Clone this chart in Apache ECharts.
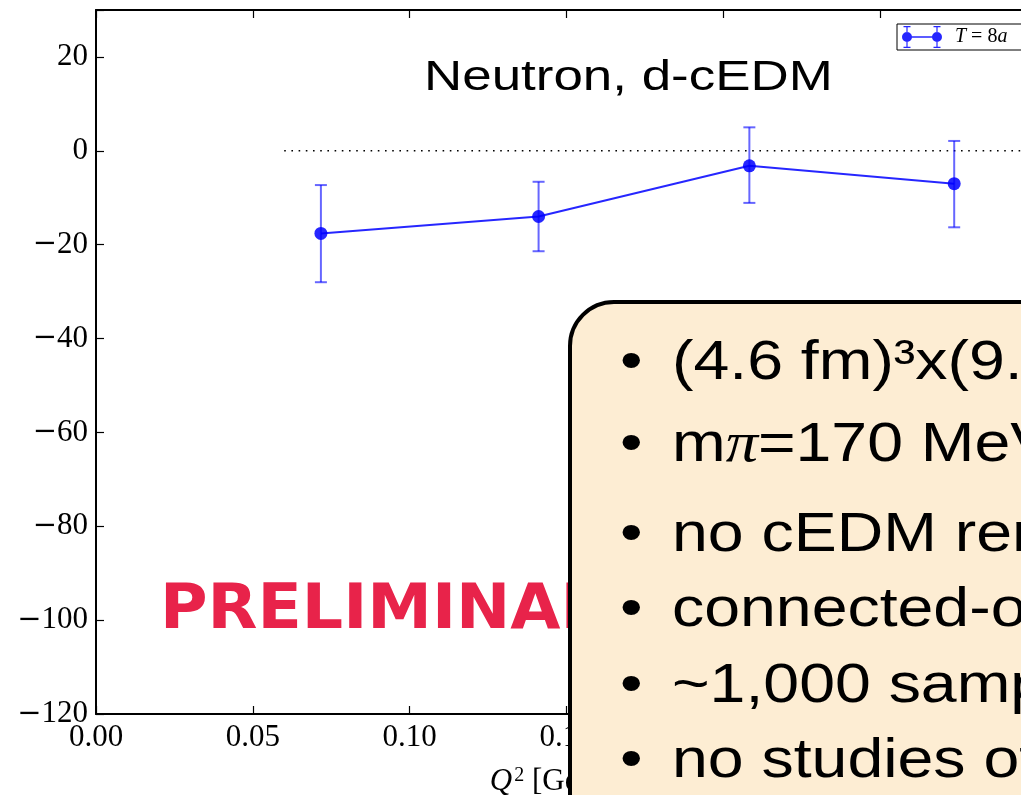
<!DOCTYPE html>
<html>
<head>
<meta charset="utf-8">
<script src="https://cdn.jsdelivr.net/npm/echarts@6/dist/echarts.min.js"></script>
<style>
  html, body { margin: 0; padding: 0; background: #fff; }
  #chart { width: 1021px; height: 795px; }
</style>
</head>
<body>
<div id="chart"></div>
<script>
// Neutron d-cEDM form factor vs Q^2, source-sink separation T = 8a
const q2Values = [0.0717, 0.1411, 0.2083, 0.2736];
const formFactor = [-17.6, -14.0, -3.2, -7.0];
const errUp = [10.3, 7.4, 8.2, 9.1];
const errDown = [10.4, 7.4, 7.9, 9.3];
const zeroLineX = [0.06, 0.30];
const xTicks = { min: 0, max: 0.30, interval: 0.05 };
const yTicks = { min: -120, max: 30, interval: 20 };
const seriesName = 'T = 8a';
const titleText = 'Neutron, d-cEDM';
const watermark = 'PRELIMINARY';
const notes = [
  ['(4.6 fm)³x(9.'],
  ['m', 'π', '=170 MeV'],
  ['no cEDM ren'],
  ['connected-on'],
  ['~1,000 samp'],
  ['no studies of']
];

const BLUE = 'rgba(0,0,255,0.85)';
const BLUE_ERR = 'rgba(0,0,255,0.6)';
const SERIF = '"Liberation Serif", "DejaVu Serif", serif';
const SANS = '"Liberation Sans", Arial, sans-serif';
const STRETCH = 1.15;

const points = q2Values.map((x, i) => [x, formFactor[i]]);
const errData = q2Values.map((x, i) => [x, formFactor[i] - errDown[i], formFactor[i] + errUp[i]]);
const tickLabel = v => (v < 0 ? '{m|\u2212}' + Math.abs(v) : String(v));

const chart = echarts.init(document.getElementById('chart'), null, { renderer: 'canvas' });

const tickCommon = { show: true, inside: true, length: 8, lineStyle: { color: '#000', width: 1.2 } };
const axisLineCommon = { show: true, onZero: false, lineStyle: { color: '#000', width: 2 } };

// legend glyph: marker-line-marker with vertical error bars and caps
const legendIcon = 'path://' +
  'M5 11.3h30v1.4h-30Z' +
  'M4.4 2h1.2v20h-1.2Z M34.4 2h1.2v20h-1.2Z' +
  'M1.5 1h7v1.2h-7Z M1.5 21.8h7v1.2h-7Z M31.5 1h7v1.2h-7Z M31.5 21.8h7v1.2h-7Z' +
  'M0 12a5 5 0 1 1 10 0a5 5 0 1 1 -10 0Z M30 12a5 5 0 1 1 10 0a5 5 0 1 1 -10 0Z';

// bulleted notes panel text
const noteElements = [];
const lineMid = [364, 446, 536, 611, 687, 762];
const NOTE_SIZE = 56;
const NOTE_FONT = NOTE_SIZE + 'px ' + SANS;
notes.forEach((parts, i) => {
  noteElements.push({
    type: 'text', x: 620, y: lineMid[i], scaleX: STRETCH, z: 101,
    style: { text: '\u2022', font: NOTE_FONT, fill: '#000', verticalAlign: 'middle' }
  });
  let style;
  if (parts.length === 3) {
    style = { text: '{n|' + parts[0] + '}{p|' + parts[1] + '}{n|' + parts[2] + '}',
      rich: { n: { font: NOTE_FONT, fill: '#000' }, p: { font: 'italic ' + NOTE_SIZE + 'px ' + SERIF, fill: '#000' } } };
  } else {
    style = { text: parts[0], font: NOTE_FONT };
  }
  noteElements.push({
    type: 'text', x: 672, y: lineMid[i], scaleX: STRETCH, z: 101,
    style: Object.assign({ fill: '#000', verticalAlign: 'middle' }, style)
  });
});

const labelRich = { m: { fontFamily: '"DejaVu Serif", serif', fontSize: 29, color: '#000' } };

const option = {
  backgroundColor: '#fff',
  animation: false,
  grid: { left: 96, top: 10, width: 941, height: 704, containLabel: false, outerBoundsMode: 'none' },
  legend: {
    show: true,
    left: 897, top: 24,
    orient: 'horizontal',
    backgroundColor: '#fff',
    borderColor: '#000', borderWidth: 1, borderRadius: 0,
    padding: [2, 24, 2, 5],
    itemWidth: 40, itemHeight: 22,
    data: [{ name: seriesName, icon: legendIcon, itemStyle: { color: BLUE } }],
    formatter: () => '{i|T} = 8{i|a}',
    textStyle: {
      fontFamily: SERIF, fontSize: 20, color: '#000', padding: [0, 0, 0, 8],
      rich: { i: { fontFamily: SERIF, fontStyle: 'italic', fontSize: 20 } }
    }
  },
  xAxis: [{
    type: 'value', position: 'bottom',
    min: xTicks.min, max: xTicks.max, interval: xTicks.interval,
    axisLine: axisLineCommon, axisTick: tickCommon, splitLine: { show: false },
    axisLabel: { margin: 8, fontFamily: SERIF, fontSize: 31, color: '#000',
      formatter: v => v.toFixed(2) },
    name: '{q|Q}{s|2} [GeV{s|2}]', nameLocation: 'middle', nameGap: 52,
    nameTextStyle: { fontFamily: SERIF, fontSize: 31, color: '#000', padding: [0, 20, 0, 0],
      rich: { q: { fontFamily: SERIF, fontStyle: 'italic', fontSize: 31 },
              s: { fontFamily: SERIF, fontSize: 20, verticalAlign: 'top', padding: [0, 0, 12, 2] } } }
  }, {
    type: 'value', position: 'top',
    min: xTicks.min, max: xTicks.max, interval: xTicks.interval,
    axisLine: axisLineCommon, axisTick: tickCommon, axisLabel: { show: false }, splitLine: { show: false }
  }],
  yAxis: [{
    type: 'value', position: 'left',
    min: yTicks.min, max: yTicks.max, interval: yTicks.interval,
    axisLine: axisLineCommon, axisTick: tickCommon, splitLine: { show: false },
    axisLabel: { margin: 8, fontFamily: SERIF, fontSize: 31, color: '#000', rich: labelRich,
      formatter: v => (v > 20 ? '' : tickLabel(v)) }
  }, {
    type: 'value', position: 'right',
    min: yTicks.min, max: yTicks.max, interval: yTicks.interval,
    axisLine: axisLineCommon, axisTick: tickCommon, axisLabel: { show: false }, splitLine: { show: false }
  }],
  series: [
    {
      name: 'zero', type: 'line', data: zeroLineX.map(x => [x, 0]),
      symbol: 'none', silent: true, z: 1,
      lineStyle: { color: '#000', width: 1.6, type: [1.6, 5.6] }
    },
    {
      name: seriesName + ' err', type: 'custom', data: errData, z: 2,
      renderItem: (params, api) => {
        const x = api.value(0);
        const lo = api.coord([x, api.value(1)]);
        const hi = api.coord([x, api.value(2)]);
        const cap = 6;
        const style = { stroke: BLUE_ERR, lineWidth: 2 };
        return { type: 'group', children: [
          { type: 'line', shape: { x1: lo[0], y1: lo[1], x2: hi[0], y2: hi[1] }, style },
          { type: 'line', shape: { x1: lo[0] - cap, y1: lo[1], x2: lo[0] + cap, y2: lo[1] }, style },
          { type: 'line', shape: { x1: hi[0] - cap, y1: hi[1], x2: hi[0] + cap, y2: hi[1] }, style }
        ] };
      }
    },
    {
      name: seriesName, type: 'line', data: points, z: 3,
      symbol: 'circle', symbolSize: 13,
      itemStyle: { color: BLUE, borderWidth: 0 },
      lineStyle: { color: BLUE, width: 2 }
    }
  ],
  graphic: [
    { type: 'text', x: 424, y: 78, scaleX: 1.26, z: 50,
      style: { text: titleText, font: '42px ' + SANS, fill: '#000', verticalAlign: 'middle' } },
    { type: 'text', x: 160, y: 612, scaleX: 1.03, z: 50,
      style: { text: watermark, font: 'bold 63px "DejaVu Sans", Verdana, sans-serif', fill: '#e8234a', verticalAlign: 'middle' } },
    { type: 'rect', x: 570, y: 302, z: 100,
      shape: { width: 620, height: 600, r: 44 },
      style: { fill: '#fdedd3', stroke: '#000', lineWidth: 4 } }
  ].concat(noteElements)
};

chart.setOption(option);
</script>
</body>
</html>
